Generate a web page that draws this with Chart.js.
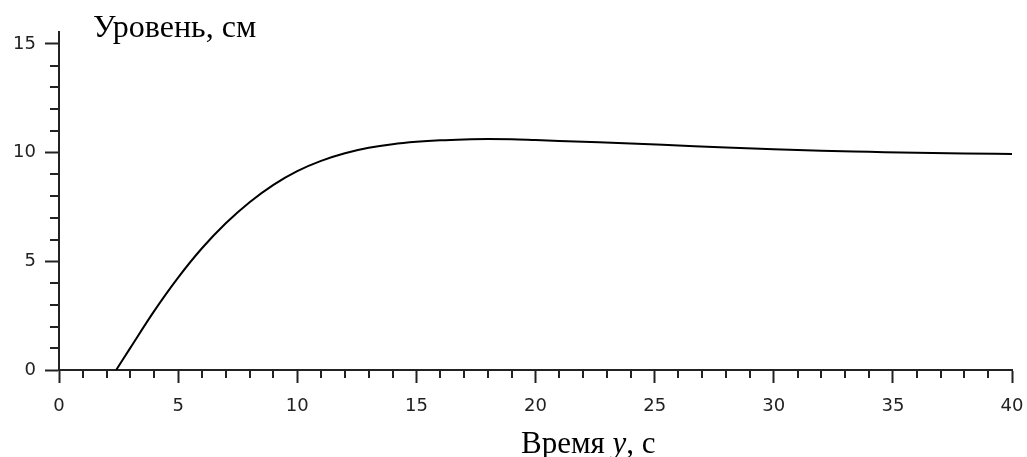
<!DOCTYPE html>
<html>
<head>
<meta charset="utf-8">
<script src="https://cdn.jsdelivr.net/npm/chart.js"></script>
<style>
  html, body { margin:0; padding:0; background:#fff; }
  #wrap { width:1027px; height:457px; position:relative; }
</style>
</head>
<body>
<div id="wrap"><canvas id="chart"></canvas></div>
<script>
// data
const timeValues  = [2.4, 3, 4, 5, 6, 7, 8, 9, 10, 11, 12, 13, 14, 15, 16, 17, 18, 19, 20, 22, 24, 26, 28, 30, 32, 34, 36, 38, 40];
const levelValues = [0, 1.03, 2.72, 4.25, 5.6, 6.75, 7.72, 8.52, 9.15, 9.62, 9.97, 10.22, 10.39, 10.5, 10.57, 10.61, 10.63, 10.62, 10.58, 10.5, 10.42, 10.33, 10.24, 10.16, 10.09, 10.04, 9.99, 9.96, 9.94];
const xTicks = [0, 5, 10, 15, 20, 25, 30, 35, 40];
const yTicks = [0, 5, 10, 15];
const xMinor = [1,2,3,4,6,7,8,9,11,12,13,14,16,17,18,19,21,22,23,24,26,27,28,29,31,32,33,34,36,37,38,39];
const yMinor = [1,2,3,4,6,7,8,9,11,12,13,14];

const axisColor = '#222';

// minor tick marks + axis titles
const extras = {
  id:'extras',
  afterDraw(chart){
    const {ctx, chartArea, scales} = chart;
    ctx.save();
    ctx.strokeStyle = axisColor; ctx.lineWidth = 2;
    ctx.beginPath();
    xMinor.forEach(v=>{
      const px = Math.round(scales.x.getPixelForValue(v));
      ctx.moveTo(px, chartArea.bottom); ctx.lineTo(px, chartArea.bottom+8);
    });
    yMinor.forEach(v=>{
      const py = Math.round(scales.y.getPixelForValue(v));
      ctx.moveTo(chartArea.left, py); ctx.lineTo(chartArea.left-9, py);
    });
    ctx.stroke();

    ctx.fillStyle = '#000';
    ctx.textBaseline = 'alphabetic';
    ctx.font = '32px "Liberation Serif"';
    ctx.fillText('Уровень, см', chartArea.left+34, 37);

    let x = chartArea.left+462, y = 453;
    const parts = [['Время ', ''], ['у', 'italic '], [', с', '']];
    parts.forEach(([t, st])=>{
      ctx.font = st + '31px "Liberation Serif"';
      ctx.fillText(t, x, y);
      x += ctx.measureText(t).width;
    });
    ctx.restore();
  }
};

new Chart(document.getElementById('chart'), {
  type:'line',
  data:{
    datasets:[{
      data: timeValues.map((t,i)=>({x:t, y:levelValues[i]})),
      borderColor:'#000', borderWidth:2, pointRadius:0,
      cubicInterpolationMode:'monotone', fill:false
    }]
  },
  options:{
    responsive:true, maintainAspectRatio:false, animation:false,
    layout:{padding:{top:32, right:15, left:0, bottom:0}},
    plugins:{legend:{display:false}, tooltip:{enabled:false}},
    scales:{
      x:{
        type:'linear', min:0, max:40,
        afterBuildTicks: s=>{ s.ticks = xTicks.map(v=>({value:v})); },
        afterFit: s=>{ s.height = 87; s.paddingRight = 0; s.paddingLeft = 0; },
        grid:{drawOnChartArea:false, drawTicks:true, tickLength:13, tickColor:axisColor, tickWidth:2},
        border:{display:true, color:axisColor, width:2},
        ticks:{color:'#222', font:{family:'DejaVu Sans', size:18}, padding:13, maxRotation:0, autoSkip:false}
      },
      y:{
        type:'linear', min:0, max:15.55,
        afterBuildTicks: s=>{ s.ticks = yTicks.map(v=>({value:v})); },
        afterFit: s=>{ s.width = 59; s.paddingTop = 0; s.paddingBottom = 0; },
        grid:{drawOnChartArea:false, drawTicks:true, tickLength:14, tickColor:axisColor, tickWidth:2},
        border:{display:true, color:axisColor, width:2},
        ticks:{color:'#222', font:{family:'DejaVu Sans', size:18}, padding:9, autoSkip:false}
      }
    }
  },
  plugins:[extras]
});
</script>
</body>
</html>
